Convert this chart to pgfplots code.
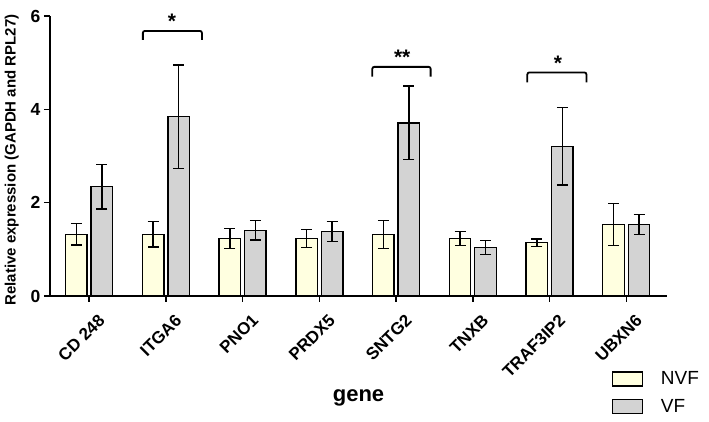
\documentclass[border=0pt]{standalone}
\usepackage{fontspec}
\setmainfont{Liberation Sans}
\usepackage{pgfplots}
\pgfplotsset{compat=1.18}
\usetikzlibrary{calc}
\definecolor{nvf}{HTML}{FFFFE0}
\definecolor{vf}{HTML}{D3D3D3}
\begin{document}
\begin{tikzpicture}
\begin{axis}[name=ax, scale only axis, width=617pt, height=280pt,
 xmin=-0.51, xmax=7.53, ymin=0, ymax=6,
 axis lines=left, axis line style={-, line width=1.8pt},
 ybar=4pt, bar width=21.5pt,
 xtick={0,...,7}, xticklabels={CD 248, ITGA6, PNO1, PRDX5, SNTG2, TNXB, TRAF3IP2, UBXN6},
 ytick={0,2,4,6}, tick align=outside, major tick length=6pt, tick style={line width=1.5pt, black},
 x tick label style={rotate=45, anchor=east, inner sep=0pt, yshift=-20pt, xshift=-2pt, font=\bfseries\fontsize{17}{18}\selectfont},
 y tick label style={font=\bfseries\fontsize{17.5}{19}\selectfont},
 /pgf/number format/assume math mode=true,
 ylabel={Relative expression (GAPDH and RPL27)}, ylabel style={font=\bfseries\fontsize{15}{16}\selectfont, at={(axis description cs:-0.062,0.486)}, anchor=center},
 xlabel={gene}, xlabel style={font=\bfseries\fontsize{22}{26}\selectfont, at={(axis description cs:0.5,-0.364)}, anchor=center},
 legend style={at={(0.905,-0.255)}, anchor=north west, draw=none, fill=none, font=\fontsize{19}{22}\selectfont, row sep=9pt},
 legend cell align=left,
 clip=false,
 error bars/y dir=both, error bars/y explicit,
 error bars/error bar style={line width=1.4pt, black},
 error bars/error mark options={rotate=90, mark size=5.5pt, line width=1.4pt, black},
]
\addplot[fill=nvf, draw=black, line width=1.3pt,
 legend image code/.code={\draw[line width=1.3pt, fill=nvf] (0pt,-7pt) rectangle (30pt,7pt); \path (46pt,0pt);}]
 coordinates {(0,1.32) +- (0,0.23) (1,1.32) +- (0,0.27) (2,1.23) +- (0,0.21) (3,1.23) +- (0,0.19)
 (4,1.32) +- (0,0.30) (5,1.23) +- (0,0.15) (6,1.14) +- (0,0.08) (7,1.53) +- (0,0.45)};
\addlegendentry{NVF}
\addplot[fill=vf, draw=black, line width=1.3pt,
 legend image code/.code={\draw[line width=1.3pt, fill=vf] (0pt,-7pt) rectangle (30pt,7pt); \path (46pt,0pt);}]
 coordinates {(0,2.34) +- (0,0.48) (1,3.84) +- (0,1.11) (2,1.41) +- (0,0.21) (3,1.38) +- (0,0.21)
 (4,3.71) +- (0,0.79) (5,1.04) +- (0,0.15) (6,3.21) +- (0,0.83) (7,1.53) +- (0,0.21)};
\addlegendentry{VF}
\draw[line width=1.8pt, rounded corners=2pt] (axis cs:0.70,5.49) -- (axis cs:0.70,5.68) -- (axis cs:1.47,5.68) -- (axis cs:1.47,5.49);
\draw[line width=1.8pt, rounded corners=2pt] (axis cs:3.69,4.70) -- (axis cs:3.69,4.91) -- (axis cs:4.45,4.91) -- (axis cs:4.45,4.70);
\draw[line width=1.8pt, rounded corners=2pt] (axis cs:5.71,4.58) -- (axis cs:5.71,4.79) -- (axis cs:6.48,4.79) -- (axis cs:6.48,4.58);
\node[font=\bfseries\fontsize{21}{22}\selectfont] at (axis cs:1.08,5.88) {*};
\node[font=\bfseries\fontsize{21}{22}\selectfont] at (axis cs:4.08,5.12) {**};
\node[font=\bfseries\fontsize{21}{22}\selectfont] at (axis cs:6.11,4.98) {*};
\end{axis}
\pgfresetboundingbox
\path ($(ax.south west)+(-50pt,-126pt)$) rectangle ($(ax.south west)+(659pt,296pt)$);
\end{tikzpicture}
\end{document}
